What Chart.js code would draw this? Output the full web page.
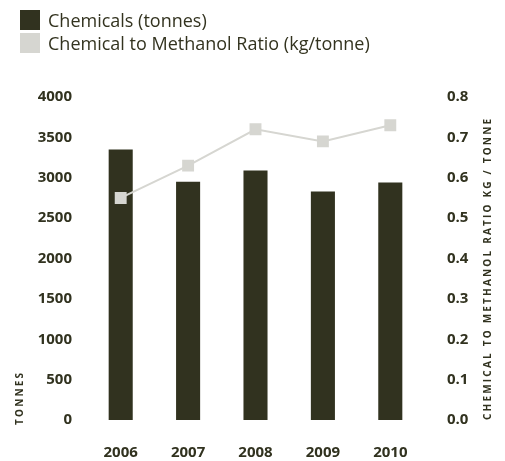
<!DOCTYPE html>
<html>
<head>
<meta charset="utf-8">
<script src="https://cdn.jsdelivr.net/npm/chart.js@4"></script>
<style>
  html, body { margin: 0; padding: 0; background: #fff; }
  #wrap { position: relative; width: 505px; height: 461px; }
  #legend { position: absolute; left: 20px; top: 8px; font-family: "Open Sans", sans-serif; font-size: 18px; font-weight: 500; color: #33331f; }
  .item { display: flex; align-items: center; height: 23.5px; }
  .swatch { width: 20px; height: 20px; margin-right: 8px; }
</style>
</head>
<body>
<div id="wrap">
  <canvas id="chart" width="505" height="461"></canvas>
  <div id="legend"></div>
</div>
<script>
// chemicals usage by year, with the ratio on a second axis
const years = ['2006', '2007', '2008', '2009', '2010'];
const chemicalTonnes = [3350, 2950, 3090, 2830, 2940];
const ratioKgPerTonne = [0.55, 0.63, 0.72, 0.69, 0.73];

const barLabel = 'Chemicals (tonnes)';
const lineLabel = 'Chemical to Methanol Ratio (kg/tonne)';
const leftTitle = 'TONNES';
const rightTitle = 'CHEMICAL TO METHANOL RATIO KG / TONNE';

const dark = '#31321f';
const grey = '#d6d6d1';
const tickFont = { family: 'Open Sans', size: 15, weight: 'bold' };

// simple html legend
const legend = document.getElementById('legend');
[[barLabel, dark], [lineLabel, grey]].forEach(([txt, col]) => {
  const d = document.createElement('div');
  d.className = 'item';
  d.innerHTML = `<span class="swatch" style="background:${col}"></span><span>${txt}</span>`;
  legend.appendChild(d);
});

// axis titles with letter spacing (chart.js has no option for that)
const axisTitles = {
  id: 'axisTitles',
  afterDraw(chart) {
    const ctx = chart.ctx;
    const area = chart.chartArea;
    ctx.save();
    ctx.font = 'bold 10px "Open Sans"';
    ctx.fillStyle = dark;
    ctx.letterSpacing = '2.2px';
    ctx.textBaseline = 'middle';
    // left title, sits at the bottom
    ctx.save();
    ctx.translate(20, area.bottom + 5);
    ctx.rotate(-Math.PI / 2);
    ctx.textAlign = 'left';
    ctx.fillText(leftTitle, 0, 0);
    ctx.restore();
    // right title, spans the axis
    ctx.save();
    ctx.translate(488, area.bottom);
    ctx.rotate(-Math.PI / 2);
    ctx.textAlign = 'left';
    ctx.fillText(rightTitle, 0, 0);
    ctx.restore();
    ctx.restore();
  }
};

new Chart(document.getElementById('chart').getContext('2d'), {
  data: {
    labels: years,
    datasets: [
      {
        type: 'line',
        label: lineLabel,
        data: ratioKgPerTonne,
        yAxisID: 'y1',
        borderColor: grey,
        borderWidth: 2,
        backgroundColor: grey,
        pointStyle: 'rect',
        pointRadius: 7,
        pointHoverRadius: 7,
        tension: 0,
        order: 0
      },
      {
        type: 'bar',
        label: barLabel,
        data: chemicalTonnes,
        yAxisID: 'y',
        backgroundColor: dark,
        categoryPercentage: 1,
        barPercentage: 0.357,
        order: 1
      }
    ]
  },
  options: {
    responsive: false,
    animation: false,
    layout: { padding: { top: 97, left: 0, right: 0, bottom: 0 } },
    plugins: { legend: { display: false }, tooltip: { enabled: false } },
    scales: {
      x: {
        grid: { display: false },
        border: { display: false },
        ticks: { font: tickFont, color: dark, padding: 16 },
        afterFit(s) { s.height = 41; }
      },
      y: {
        position: 'left',
        min: 0, max: 4000,
        grid: { display: false },
        border: { display: false },
        ticks: { stepSize: 500, font: tickFont, color: dark, padding: 7, callback: v => String(v) },
        afterFit(s) { s.width = 87; }
      },
      y1: {
        position: 'right',
        min: 0, max: 0.8,
        grid: { display: false },
        border: { display: false },
        ticks: {
          stepSize: 0.1, font: tickFont, color: dark, padding: 15,
          callback: v => Number(v).toFixed(1)
        },
        afterFit(s) { s.width = 81; }
      }
    }
  },
  plugins: [axisTitles]
});
</script>
</body>
</html>
